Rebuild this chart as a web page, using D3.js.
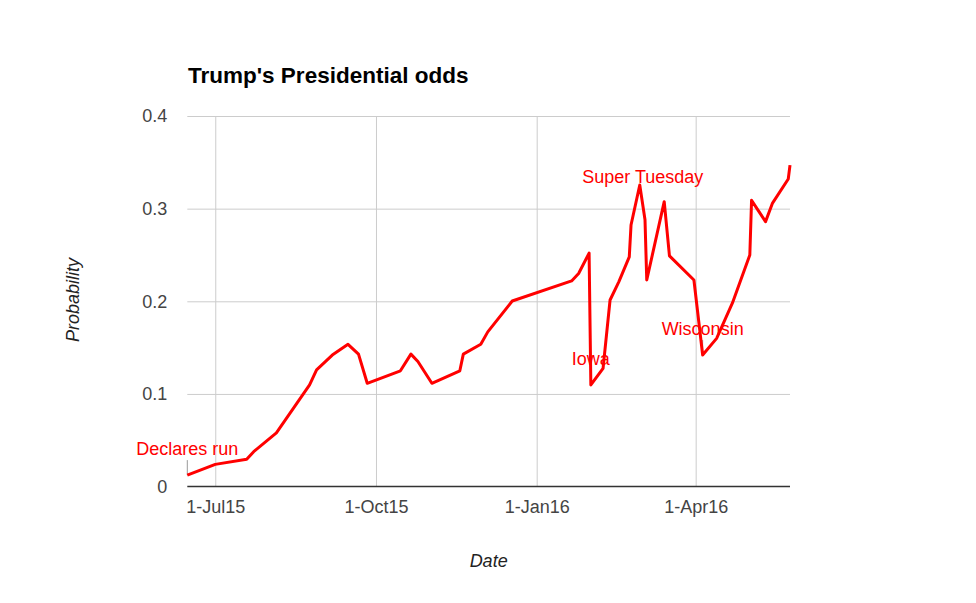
<!DOCTYPE html>
<html>
<head>
<meta charset="utf-8">
<script src="https://cdn.jsdelivr.net/npm/d3@7"></script>
<style>
  html, body { margin: 0; padding: 0; background: #fff; }
  svg { display: block; font-family: Arial, "Liberation Sans", sans-serif; }
</style>
</head>
<body>
<svg id="chart" width="976" height="603"></svg>
<script>
// ---- data ----
const dates = [
  "2015-06-15","2015-07-01","2015-07-19","2015-07-23","2015-08-05","2015-08-24",
  "2015-08-28","2015-09-06","2015-09-15","2015-09-21","2015-09-26","2015-10-15",
  "2015-10-21","2015-10-25","2015-11-02","2015-11-18","2015-11-20","2015-11-30",
  "2015-12-04","2015-12-18","2016-01-21","2016-01-25","2016-01-31","2016-02-01",
  "2016-02-08","2016-02-12","2016-02-17","2016-02-23","2016-02-24","2016-02-29",
  "2016-03-03","2016-03-04","2016-03-14","2016-03-17","2016-03-31","2016-04-05",
  "2016-04-13","2016-04-22","2016-05-02","2016-05-03","2016-05-11","2016-05-15",
  "2016-05-24","2016-05-25"
];
const probability = [
  0.0124,0.024,0.0295,0.0377,0.058,0.1097,
  0.126,0.142,0.1536,0.143,0.1115,0.125,
  0.143,0.135,0.1115,0.125,0.143,0.1536,
  0.167,0.2003,0.222,0.230,0.252,0.1097,
  0.1277,0.2014,0.221,0.248,0.2823,0.3255,
  0.288,0.223,0.3075,0.249,0.223,0.142,
  0.160,0.198,0.250,0.309,0.286,0.306,
  0.332,0.347
];
const annotationDates = ["2015-06-15","2016-02-01","2016-02-29","2016-04-05"];
const annotationLabels = ["Declares run","Iowa","Super Tuesday","Wisconsin"];
const xTickDates = ["2015-07-01","2015-10-01","2016-01-01","2016-04-01"];
const yTickValues = [0, 0.1, 0.2, 0.3, 0.4];
const yTickLabels = ["0","0.1","0.2","0.3","0.4"];
const chartTitle = "Trump's Presidential odds";
const xTitle = "Date";
const yTitle = "Probability";

// ---- drawing ----
const parse = d3.timeParse("%Y-%m-%d");
const fmt = d3.timeFormat("%-d-%b%y");
const series = dates.map((d, i) => ({ date: parse(d), value: probability[i] }));

const svg = d3.select("#chart");
const plotLeft = 187.3, plotRight = 790, plotTop = 116, plotBottom = 486.6;

const x = d3.scaleTime().domain(d3.extent(series, d => d.date)).range([plotLeft, plotRight]);
const y = d3.scaleLinear().domain([0, 0.4]).range([plotBottom, plotTop]);

// horizontal gridlines + y labels
const yAxis = d3.axisLeft(y)
  .tickValues(yTickValues)
  .tickSize(-(plotRight - plotLeft))
  .tickPadding(20)
  .tickFormat((d, i) => yTickLabels[i]);
const gy = svg.append("g").attr("transform", `translate(${plotLeft},0)`).call(yAxis);
gy.select(".domain").remove();
gy.selectAll(".tick line").attr("stroke", "#cccccc").attr("stroke-width", 1)
  .filter(d => d === 0).remove();
gy.selectAll(".tick text").attr("fill", "#444").style("font-size", "18px")
  .attr("font-family", "Arial, 'Liberation Sans', sans-serif");

// vertical gridlines + x labels
const xAxis = d3.axisBottom(x)
  .tickValues(xTickDates.map(parse))
  .tickSize(-(plotBottom - plotTop))
  .tickPadding(14)
  .tickFormat(fmt);
const gx = svg.append("g").attr("transform", `translate(0,${plotBottom})`).call(xAxis);
gx.select(".domain").remove();
gx.selectAll(".tick line").attr("stroke", "#cccccc").attr("stroke-width", 1);
gx.selectAll(".tick text").attr("fill", "#444").style("font-size", "18px")
  .attr("font-family", "Arial, 'Liberation Sans', sans-serif");

// baseline
svg.append("line")
  .attr("x1", plotLeft).attr("x2", plotRight)
  .attr("y1", y(0)).attr("y2", y(0))
  .attr("stroke", "#333").attr("stroke-width", 1.5);

// annotation stems (under the line)
const annLift = { "Super Tuesday": 2 };
const annPoints = annotationDates.map((ds, i) => {
  const pt = series.find(s => +s.date === +parse(ds));
  const lab = annotationLabels[i];
  return { px: x(pt.date), py: y(pt.value), lab,
           lift: annLift[lab] !== undefined ? annLift[lab] : 20 };
});
annPoints.forEach(a => {
  if (a.lift > 10) {
    svg.append("line")
      .attr("x1", a.px).attr("x2", a.px)
      .attr("y1", a.py).attr("y2", a.py - a.lift + 5)
      .attr("stroke", "#999").attr("stroke-width", 1);
  }
});

// line
const line = d3.line().x(d => x(d.date)).y(d => y(d.value));
svg.append("path")
  .datum(series)
  .attr("fill", "none")
  .attr("stroke", "#ff0000")
  .attr("stroke-width", 3)
  .attr("stroke-linejoin", "round")
  .attr("d", line);

// annotation labels
annPoints.forEach(a => {
  svg.append("text")
    .attr("x", a.px + (a.lab === "Super Tuesday" ? 3 : 0)).attr("y", a.py - a.lift)
    .attr("text-anchor", "middle")
    .attr("fill", "#ff0000")
    .style("font-size", "18px")
    .text(a.lab);
});

// titles
svg.append("text")
  .attr("x", 188).attr("y", 82.5)
  .style("font-size", "22.5px").style("font-weight", "bold")
  .attr("fill", "#000")
  .text(chartTitle);

svg.append("text")
  .attr("x", (plotLeft + plotRight) / 2).attr("y", 566.5)
  .attr("text-anchor", "middle")
  .style("font-size", "18px").style("font-style", "italic")
  .attr("fill", "#222")
  .text(xTitle);

svg.append("text")
  .attr("transform", "translate(79,300) rotate(-90)")
  .attr("text-anchor", "middle")
  .style("font-size", "18px").style("font-style", "italic")
  .attr("fill", "#222")
  .text(yTitle);
</script>
</body>
</html>
